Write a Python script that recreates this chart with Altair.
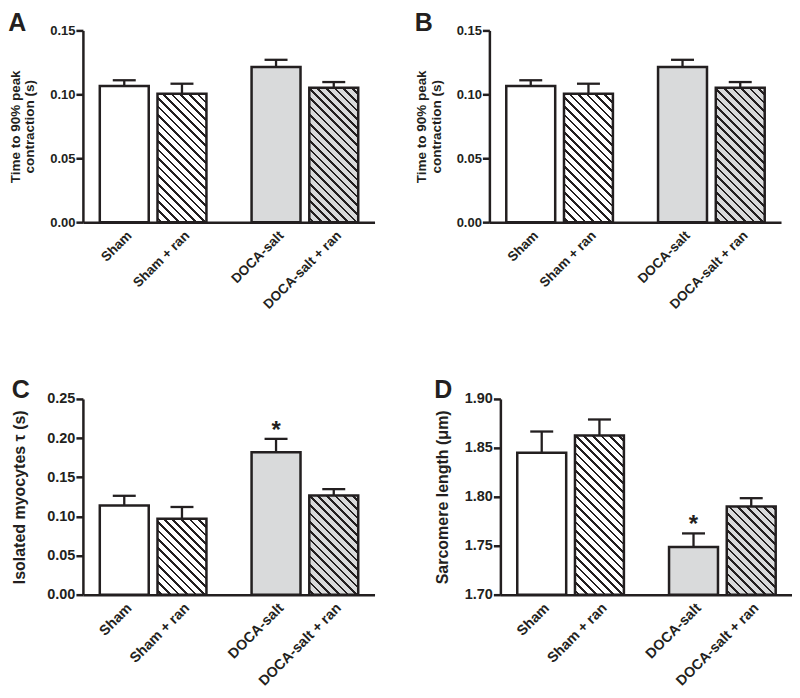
import math
import altair as alt
import pandas as pd

# ---------------- data ----------------
groups = ["Sham", "Sham + ran", "DOCA-salt", "DOCA-salt + ran"]

t90_mean = [0.1065, 0.1005, 0.1213, 0.1052]
t90_sem = [0.0045, 0.0078, 0.0057, 0.0044]

tau_mean = [0.114, 0.097, 0.182, 0.1267]
tau_sem = [0.0123, 0.015, 0.017, 0.0081]
tau_sig = ["", "", "*", ""]

sl_mean = [1.845, 1.8626, 1.7486, 1.790]
sl_sem = [0.0217, 0.0164, 0.014, 0.0086]
sl_sig = ["", "", "*", ""]

no_sig = ["", "", "", ""]

# ---------------- style ----------------
FONT = "Liberation Sans"
INK = "#231f20"
GRAY = "#d9dadb"
SLOTS = [0.63, 1.63, 3.26, 4.26]      # category slot positions on the x axis
XMAX = 4.88
PW = 292                               # plot width (px)
BAR_W = 49
STYLES = ["white", "hatch_white", "gray", "hatch_gray"]


def hatch(bg, line, W, H, spacing=6.1, thick=1.9):
    """Diagonal stripes as a sharp-stop linear gradient in bbox units."""
    H = max(H, 1.0)
    k = H / W
    a = (1 + k) / (1 + k * k)
    b = k * a
    L = (W + H) / math.sqrt(2)
    h = thick / 2 / L
    stops = [{"offset": 0, "color": bg}]
    c = spacing / 2 / L
    while c - h < 1:
        a0 = max(0.0, c - h)
        a1 = min(1.0, c + h)
        stops += [
            {"offset": round(a0, 5), "color": bg},
            {"offset": round(a0, 5), "color": line},
            {"offset": round(a1, 5), "color": line},
            {"offset": round(a1, 5), "color": bg},
        ]
        c += spacing / L
    stops.append({"offset": 1, "color": bg})
    return {"gradient": "linear", "x1": 0, "y1": 1, "x2": a, "y2": 1 - b, "stops": stops}


def label_expr():
    parts = []
    for i, g in enumerate(groups[:-1]):
        mid = (SLOTS[i] + SLOTS[i + 1]) / 2
        parts.append(f"datum.value < {mid} ? '{g}' : ")
    return "".join(parts) + f"'{groups[-1]}'"


def panel(letter, means, sems, sig, ymin, ymax, step, ytitle, PH,
          title_pad, lab_fs, xlab_fs, title_fs):
    df = pd.DataFrame({"group": groups, "mean": means, "sem": sems,
                       "slot": SLOTS, "sig": sig})
    df["top"] = df["mean"] + df["sem"]

    nt = int(round((ymax - ymin) / step))
    tick_vals = [round(ymin + i * step, 4) for i in range(nt + 1)]

    xscale = alt.Scale(domain=[0, XMAX], nice=False, zero=False)
    yscale = alt.Scale(domain=[ymin, ymax], zero=False, nice=False)
    xaxis = alt.Axis(values=SLOTS, labelExpr=label_expr(), labelAngle=-45,
                     labelAlign="right", labelBaseline="top", ticks=False,
                     grid=False, title=None, labelPadding=6, labelOverlap=False,
                     labelBound=False, domainWidth=2.5, domainColor=INK,
                     labelFontSize=xlab_fs, labelFontWeight="bold", labelColor=INK,
                     labelFont=FONT)
    yaxis = alt.Axis(values=tick_vals, format=".2f", title=ytitle, grid=False,
                     tickSize=7, tickWidth=2.5, tickColor=INK, domainWidth=2.5,
                     domainColor=INK, labelPadding=1, labelFontSize=lab_fs,
                     labelFontWeight="bold", labelColor=INK, labelFont=FONT,
                     labelOverlap=False, titleFontSize=title_fs, titleFontWeight="bold",
                     titleColor=INK, titleFont=FONT, titlePadding=title_pad,
                     titleLineHeight=title_fs + 1)
    x = alt.X("slot:Q", scale=xscale, axis=xaxis)

    base = alt.Chart(df)
    err = base.mark_rule(color=INK, strokeWidth=2.3).encode(
        x=x, y=alt.Y("mean:Q", scale=yscale, axis=yaxis), y2="top:Q")
    cap = base.mark_rule(color=INK, strokeWidth=2.3, xOffset=-11.5, x2Offset=11.5).encode(
        x=x, x2="slot:Q", y=alt.Y("top:Q", scale=yscale, axis=yaxis))

    bars = []
    for i, st in enumerate(STYLES):
        Hpx = (means[i] - ymin) / (ymax - ymin) * PH
        if st == "white":
            fill = "white"
        elif st == "gray":
            fill = GRAY
        elif st == "hatch_white":
            fill = hatch("#ffffff", INK, BAR_W, Hpx)
        else:
            fill = hatch(GRAY, INK, BAR_W, Hpx)
        b = alt.Chart(df.iloc[[i]]).mark_bar(
            size=BAR_W, fill=fill, stroke=INK, strokeWidth=2.5, strokeJoin="miter"
        ).encode(x=x, y=alt.Y("mean:Q", scale=yscale, axis=yaxis), y2=alt.datum(ymin))
        bars.append(b)

    star = base.mark_text(fontSize=24, fontWeight="bold", font=FONT, color=INK,
                          baseline="alphabetic", dy=-1).encode(
        x=x, y=alt.Y("top:Q", scale=yscale, axis=yaxis), text="sig:N")

    layer = alt.layer(err, cap, *bars, star).properties(
        width=PW, height=PH,
        title=alt.TitleParams(letter, anchor="start", frame="bounds", fontSize=25,
                              fontWeight="bold", font=FONT, color=INK, offset=-12),
    )
    return layer


A = panel("A", t90_mean, t90_sem, no_sig, 0.0, 0.15, 0.05,
          ["Time to 90% peak", "contraction (s)"], 192, 13, 13, 13.5, 13.5)
B = panel("B", t90_mean, t90_sem, no_sig, 0.0, 0.15, 0.05,
          ["Time to 90% peak", "contraction (s)"], 192, 13, 13, 13.5, 13.5)
C = panel("C", tau_mean, tau_sem, tau_sig, 0.0, 0.25, 0.05,
          "Isolated myocytes τ (s)", 196, 19, 14.5, 14.3, 16)
D = panel("D", sl_mean, sl_sem, sl_sig, 1.70, 1.90, 0.05,
          "Sarcomere length (μm)", 196, 14, 14.5, 14.3, 16)

chart = alt.vconcat(
    alt.hconcat(A, B, spacing=40),
    alt.hconcat(C, D, spacing=59),
    spacing=66,
).properties(padding={"left": 0, "top": 3, "right": 0, "bottom": 0},
             background="white").configure_view(stroke=None)

chart.save("out.html", embed_options={"renderer": "svg", "actions": False})
